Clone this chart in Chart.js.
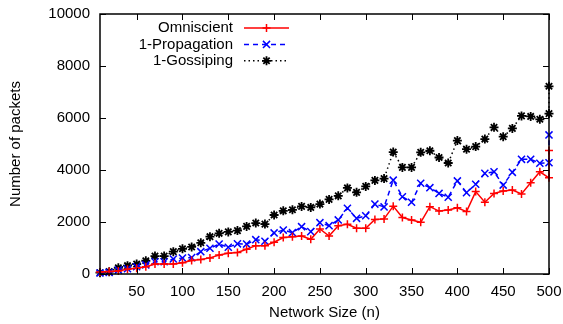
<!DOCTYPE html>
<html>
<head>
<meta charset="utf-8">
<script src="https://cdn.jsdelivr.net/npm/chart.js@4.4.1/dist/chart.umd.min.js"></script>
<style>
  html, body { margin: 0; padding: 0; background: #fff; }
  #wrap { width: 563px; height: 324px; }
</style>
</head>
<body>
<div id="wrap"><canvas id="packetChart"></canvas></div>
<script>
// network size (n) - last size measured twice
const networkSize = [10, 20, 30, 40, 50, 60, 70, 80, 90, 100,
    110, 120, 130, 140, 150, 160, 170, 180, 190, 200,
    210, 220, 230, 240, 250, 260, 270, 280, 290, 300,
    310, 320, 330, 340, 350, 360, 370, 380, 390, 400,
    410, 420, 430, 440, 450, 460, 470, 480, 490, 500, 500];

const omniscient = [75, 100, 115, 180, 220, 280, 385, 385, 385, 435,
    520, 560, 620, 730, 800, 830, 950, 1090, 1090, 1220,
    1400, 1435, 1460, 1335, 1730, 1460, 1860, 1910, 1760, 1760,
    2100, 2120, 2610, 2170, 2080, 1990, 2590, 2420, 2460, 2550,
    2400, 3170, 2760, 3100, 3190, 3230, 3080, 3510, 3930, 3700, 4750];

const propagation = [40, 60, 150, 200, 280, 350, 470, 470, 575, 615,
    630, 860, 990, 1150, 1030, 1160, 1150, 1320, 1260, 1580,
    1690, 1590, 1820, 1630, 1975, 1860, 2080, 2530, 2140, 2240,
    2690, 2580, 3610, 2970, 2760, 3490, 3320, 3100, 2950, 3580,
    3130, 3450, 3870, 3930, 3420, 3910, 4410, 4410, 4260, 4280, 5350];

const gossiping = [50, 90, 240, 320, 385, 510, 690, 690, 860, 970,
    1040, 1200, 1435, 1565, 1620, 1670, 1830, 1960, 1920, 2270,
    2430, 2470, 2600, 2560, 2690, 2870, 3005, 3310, 3140, 3370,
    3600, 3670, 4690, 4100, 4100, 4680, 4740, 4480, 4270, 5130,
    4800, 4900, 5190, 5640, 5280, 5600, 6080, 6060, 5950, 6170, 7220];

const seriesNames = ['Omniscient', '1-Propagation', '1-Gossiping'];
const xTickValues = [50, 100, 150, 200, 250, 300, 350, 400, 450, 500];

const FONT = { family: '"Liberation Sans", Arial, sans-serif', size: 15 };

function toPoints(values) {
    return values.map((v, i) => ({ x: networkSize[i], y: v }));
}

// gnuplot-like frame with inward ticks on all sides, plus the key
const gnuplotFrame = {
    id: 'gnuplotFrame',
    afterDraw(chart) {
        const ctx = chart.ctx;
        const a = chart.chartArea;
        const xs = chart.scales.x, ys = chart.scales.y;
        const tick = 6;
        ctx.save();
        ctx.strokeStyle = '#000';
        ctx.lineWidth = 1.5;
        ctx.setLineDash([]);
        ctx.strokeRect(a.left, a.top, a.right - a.left, a.bottom - a.top);
        ctx.lineWidth = 1;
        ctx.beginPath();
        xs.ticks.forEach(t => {
            const px = Math.round(xs.getPixelForValue(t.value)) + 0.5;
            ctx.moveTo(px, a.bottom); ctx.lineTo(px, a.bottom - tick);
            ctx.moveTo(px, a.top); ctx.lineTo(px, a.top + tick);
        });
        ys.ticks.forEach(t => {
            const py = Math.round(ys.getPixelForValue(t.value)) + 0.5;
            ctx.moveTo(a.left, py); ctx.lineTo(a.left + tick, py);
            ctx.moveTo(a.right, py); ctx.lineTo(a.right - tick, py);
        });
        ctx.stroke();

        // key
        const textRight = a.left + 133;
        const lineStart = a.left + 144, lineEnd = a.left + 189;
        ctx.font = FONT.size + 'px ' + FONT.family;
        ctx.textAlign = 'right';
        ctx.textBaseline = 'middle';
        chart.data.datasets.forEach((ds, i) => {
            const y = a.top + 14 + i * 16.4;
            ctx.fillStyle = '#000';
            ctx.fillText(ds.label, textRight, y);
            ctx.strokeStyle = ds.borderColor;
            ctx.lineWidth = ds.borderWidth;
            ctx.setLineDash(ds.borderDash || []);
            ctx.beginPath();
            ctx.moveTo(lineStart, y); ctx.lineTo(lineEnd, y);
            ctx.stroke();
            ctx.setLineDash([]);
            ctx.lineWidth = ds.pointBorderWidth;
            Chart.helpers.drawPoint(ctx, {
                pointStyle: ds.pointStyle, radius: ds.pointRadius,
                rotation: 0, borderWidth: ds.pointBorderWidth
            }, (lineStart + lineEnd) / 2, y);
        });
        ctx.restore();
    }
};

const ctx = document.getElementById('packetChart').getContext('2d');

new Chart(ctx, {
    type: 'line',
    data: {
        datasets: [
            {
                label: seriesNames[0],
                data: toPoints(omniscient),
                borderColor: '#ff0000',
                backgroundColor: '#ff0000',
                borderWidth: 1.5,
                pointStyle: 'cross',
                pointRadius: 4,
                pointBorderWidth: 1.5,
                tension: 0,
                clip: false
            },
            {
                label: seriesNames[1],
                data: toPoints(propagation),
                borderColor: '#0000ff',
                backgroundColor: '#0000ff',
                borderWidth: 1.5,
                borderDash: [5, 4],
                pointStyle: 'crossRot',
                pointRadius: 5,
                pointBorderWidth: 1.5,
                tension: 0,
                clip: false
            },
            {
                label: seriesNames[2],
                data: toPoints(gossiping),
                borderColor: '#000000',
                backgroundColor: '#000000',
                borderWidth: 1.5,
                borderDash: [1.5, 3],
                pointStyle: 'star',
                pointRadius: 4.5,
                pointBorderWidth: 1.8,
                tension: 0,
                clip: false
            }
        ]
    },
    options: {
        responsive: true,
        maintainAspectRatio: false,
        animation: false,
        layout: { autoPadding: false, padding: { top: 14, right: 14, left: 0, bottom: 0 } },
        plugins: {
            legend: { display: false },
            tooltip: { enabled: false }
        },
        scales: {
            x: {
                type: 'linear',
                min: 10,
                max: 500,
                afterBuildTicks: scale => {
                    scale.ticks = xTickValues.map(v => ({ value: v }));
                },
                afterFit: scale => {
                    scale.height = 50;
                    scale.paddingLeft = 0;
                    scale.paddingRight = 0;
                },
                grid: { display: false, drawTicks: false },
                border: { display: false },
                ticks: { padding: 9, color: '#000', font: FONT, callback: v => String(v) },
                title: {
                    display: true, text: 'Network Size (n)', color: '#000',
                    font: FONT, padding: { top: 0, bottom: 2 }
                }
            },
            y: {
                type: 'linear',
                min: 0,
                max: 10000,
                ticks: { stepSize: 2000, padding: 10, color: '#000', font: FONT, callback: v => String(v) },
                afterFit: scale => {
                    scale.width = 100;
                    scale.paddingTop = 0;
                    scale.paddingBottom = 0;
                },
                grid: { display: false, drawTicks: false },
                border: { display: false },
                title: {
                    display: true, text: 'Number of packets', color: '#000',
                    font: FONT, padding: { top: 7, bottom: 0 }
                }
            }
        }
    },
    plugins: [gnuplotFrame]
});
</script>
</body>
</html>
